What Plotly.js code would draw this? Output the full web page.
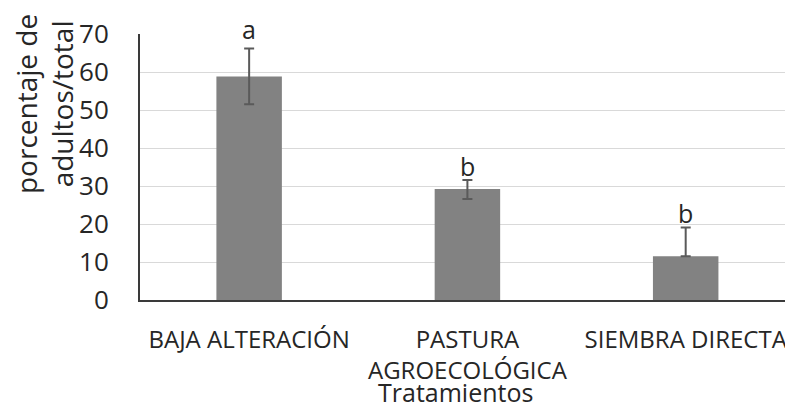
<!DOCTYPE html>
<html>
<head>
<meta charset="utf-8">
<script src="https://cdn.plot.ly/plotly-3.0.1.min.js"></script>
<style>
  html, body { margin: 0; padding: 0; background: #fff; }
  #chart { width: 785px; height: 410px; }
</style>
</head>
<body>
<div id="chart"></div>
<script>
const categories = ["BAJA ALTERACIÓN", "PASTURA<br>AGROECOLÓGICA", "SIEMBRA DIRECTA"];
const values = [58.8, 29.2, 11.5];
const errPlus = [7.4, 2.4, 7.6];
const errMinus = [7.3, 2.6, 0];
const letters = ["a", "b", "b"];
const yTicks = [0, 10, 20, 30, 40, 50, 60, 70];

const FONT = "Open Sans, sans-serif";
const TXT = "#262626";
const xIdx = categories.map((_, i) => i);

const trace = {
  type: "bar",
  x: xIdx,
  y: values,
  marker: { color: "#828282", line: { width: 0 } },
  error_y: {
    type: "data",
    symmetric: false,
    array: errPlus,
    arrayminus: errMinus,
    color: "#5a5a5a",
    thickness: 2,
    width: 5
  },
  hoverinfo: "skip"
};

const annotations = letters.map((t, i) => ({
  x: i, y: values[i] + errPlus[i], xref: "x", yref: "y",
  text: t, showarrow: false, yanchor: "bottom",
  yshift: i === 0 ? 0 : -5,
  font: { family: FONT, size: 25, color: TXT }
}));

annotations.push({
  text: "porcentaje de<br>adultos/total",
  xref: "paper", yref: "paper", x: -0.148, y: 0.735,
  xanchor: "center", yanchor: "middle",
  textangle: -90, showarrow: false,
  font: { family: FONT, size: 28, color: TXT }
});
annotations.push({
  text: "Tratamientos",
  xref: "paper", yref: "paper", x: 0.489, y: -0.345,
  xanchor: "center", yanchor: "middle",
  showarrow: false,
  font: { family: FONT, size: 25, color: TXT }
});

const layout = {
  width: 785, height: 410,
  margin: { l: 140, r: 0, t: 34, b: 110 },
  paper_bgcolor: "#ffffff", plot_bgcolor: "#ffffff",
  showlegend: false,
  bargap: 0.7,
  xaxis: {
    range: [-0.5, 2.455],
    tickmode: "array",
    tickvals: xIdx,
    ticktext: categories,
    ticklabeloverflow: "allow",
    ticks: "outside", ticklen: 17, tickcolor: "rgba(0,0,0,0)",
    showgrid: false, zeroline: false,
    showline: true, linecolor: "#3a3a3a", linewidth: 2,
    tickfont: { family: FONT, size: 24, color: TXT }
  },
  yaxis: {
    range: [0, 70],
    tickmode: "array",
    tickvals: yTicks,
    ticktext: yTicks.map(String),
    ticks: "outside", ticklen: 24, tickcolor: "rgba(0,0,0,0)",
    showgrid: true, gridcolor: "#d9d9d9", gridwidth: 1,
    zeroline: false,
    showline: true, linecolor: "#3a3a3a", linewidth: 2,
    tickfont: { family: FONT, size: 26, color: TXT }
  },
  annotations: annotations
};

Plotly.newPlot("chart", [trace], layout, { displayModeBar: false, staticPlot: true });
</script>
</body>
</html>
